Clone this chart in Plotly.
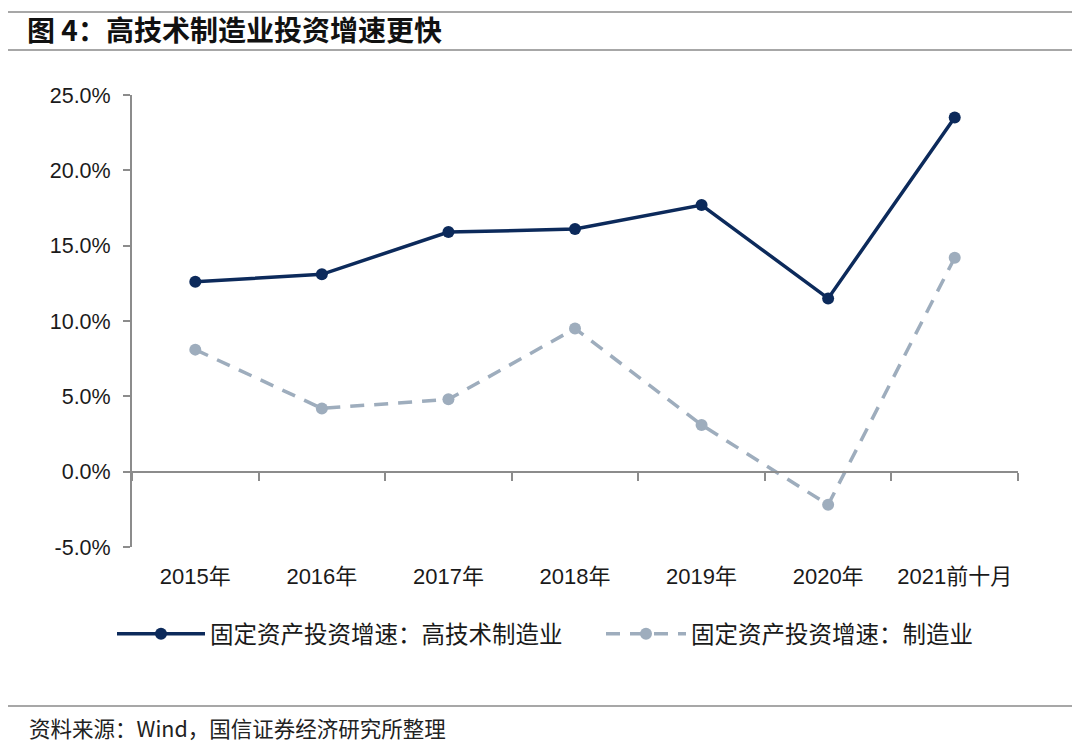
import plotly.graph_objects as go

categories = ["2015年", "2016年", "2017年", "2018年", "2019年", "2020年", "2021前十月"]
hightech = [12.6, 13.1, 15.9, 16.1, 17.7, 11.5, 23.5]
manufacturing = [8.1, 4.2, 4.8, 9.5, 3.1, -2.2, 14.2]
name_ht = "固定资产投资增速：高技术制造业"
name_mf = "固定资产投资增速：制造业"
y_ticks = [-5, 0, 5, 10, 15, 20, 25]

# page offset (body margin) compensation
OFF = 8
W, H = 1080 - OFF, 748 - OFF
PL, PR, PT, PB = 132, 1018, 95, 547  # plot area in page pixels
L, R, T, B = PL - OFF, 1080 - PR, PT - OFF, H - (PB - OFF)
ymin, ymax = -5, 25
PW, PH = PR - PL, PB - PT


def px(x):
    return (x - PL) / PW


def py(y):
    return (PB - y) / PH


fig = go.Figure()
fig.add_trace(go.Scatter(
    x=categories, y=hightech, name=name_ht, mode="lines+markers", legend="legend",
    line=dict(color="#0C2A5B", width=3.5), marker=dict(size=12, color="#0C2A5B"),
))
fig.add_trace(go.Scatter(
    x=categories, y=manufacturing, name=name_mf, mode="lines+markers", legend="legend2",
    line=dict(color="#9EADBD", width=3.5, dash="14px,10px"), marker=dict(size=12, color="#9EADBD"),
))
# helper invisible trace for axis at zero
fig.add_trace(go.Scatter(x=categories, y=[None] * len(categories), xaxis="x2", yaxis="y",
                         showlegend=False, hoverinfo="skip", mode="lines"))

zero_pos = (0 - ymin) / (ymax - ymin)
legfont = dict(family="Noto Sans CJK SC", size=23.5, color="#1a1a1a")

fig.update_layout(
    width=W, height=H,
    margin=dict(l=L, r=R, t=T, b=B),
    paper_bgcolor="white", plot_bgcolor="white",
    showlegend=True,
    legend=dict(x=px(112), xanchor="left", y=py(634), yanchor="middle", font=legfont,
                bgcolor="rgba(0,0,0,0)", itemwidth=88),
    legend2=dict(x=px(601), xanchor="left", y=py(634), yanchor="middle", font=legfont,
                 bgcolor="rgba(0,0,0,0)", itemwidth=80),
    xaxis=dict(type="category", categoryarray=categories, range=[-0.5, 6.5],
               showline=False, ticks="", showgrid=False,
               tickfont=dict(family="Liberation Sans, Noto Sans CJK SC", size=22, color="#1a1a1a"),
               ticklabelstandoff=14),
    xaxis2=dict(type="category", categoryarray=categories, range=[-0.5, 6.5], overlaying="x",
                anchor="free", position=zero_pos, showline=True, linecolor="#8c8c8c", linewidth=2,
                ticks="outside", tickson="boundaries", ticklen=8, tickcolor="#8c8c8c", tickwidth=2,
                showticklabels=False, showgrid=False),
    yaxis=dict(range=[ymin, ymax], tickvals=y_ticks, ticktext=[f"{v:.1f}%" for v in y_ticks],
               showline=True, linecolor="#8c8c8c", linewidth=2, ticks="outside", ticklen=7,
               tickcolor="#8c8c8c", tickwidth=2, showgrid=False, zeroline=False,
               tickfont=dict(family="Liberation Sans, Arial, sans-serif", size=21.5, color="#1a1a1a"),
               ticklabelstandoff=8),
    title=dict(text="<b>图 4：高技术制造业投资增速更快</b>", x=(27 - OFF) / W, xanchor="left",
               y=1 - (31 - OFF) / H, yanchor="middle",
               font=dict(family="Noto Sans CJK SC", size=28, color="#111")),
)

# decorative horizontal rules
for yy in [12, 50, 706]:
    fig.add_shape(type="line", xref="paper", yref="paper",
                  x0=px(8), x1=px(1080), y0=py(yy), y1=py(yy),
                  line=dict(color="#8a8a8a", width=1.5))

fig.add_annotation(text="资料来源：Wind，国信证券经济研究所整理", xref="paper", yref="paper",
                   x=px(27), xanchor="left", y=py(727), yanchor="middle", showarrow=False,
                   font=dict(family="Noto Sans CJK SC", size=21.5, color="#222"))

fig.write_html("out.html")
